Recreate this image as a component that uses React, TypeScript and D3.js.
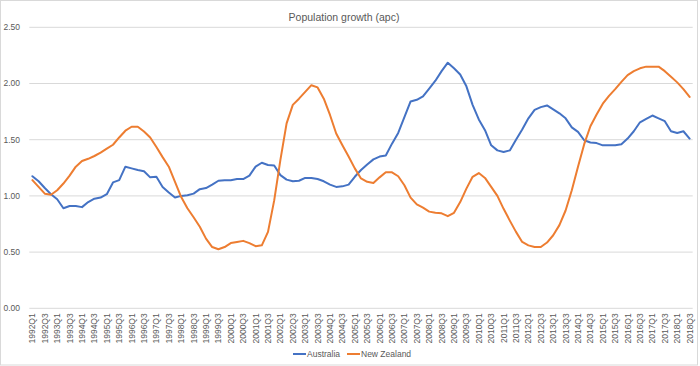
import React, { useEffect, useRef } from 'react'
import * as d3 from 'd3'

// quarterly, 1992Q1 .. 2018Q3
const startYear = 1992
const quarterCount = 107
const quarters: string[] = d3.range(quarterCount).map(
  (i) => `${startYear + Math.floor(i / 4)}Q${(i % 4) + 1}`
)

const australia = [
  1.175, 1.13, 1.07, 1.015, 0.97, 0.89, 0.91, 0.91, 0.9, 0.945,
  0.975, 0.985, 1.015, 1.12, 1.14, 1.26, 1.245, 1.23, 1.22, 1.165,
  1.17, 1.08, 1.03, 0.985, 1.0, 1.005, 1.02, 1.06, 1.07, 1.1,
  1.135, 1.14, 1.14, 1.15, 1.15, 1.18, 1.26, 1.295, 1.275, 1.27,
  1.185, 1.145, 1.13, 1.135, 1.16, 1.16, 1.15, 1.13, 1.1, 1.08,
  1.085, 1.1, 1.17, 1.23, 1.28, 1.325, 1.35, 1.36, 1.465, 1.56,
  1.7, 1.84, 1.855, 1.885, 1.955, 2.025, 2.11, 2.185, 2.135, 2.08,
  1.975, 1.81, 1.68, 1.585, 1.45, 1.405, 1.39, 1.405, 1.5, 1.59,
  1.69, 1.765, 1.79, 1.805, 1.77, 1.735, 1.69, 1.61, 1.57, 1.495,
  1.475, 1.47, 1.45, 1.45, 1.45, 1.46, 1.51, 1.575, 1.655, 1.685,
  1.715, 1.69, 1.665, 1.575, 1.56, 1.575, 1.51,
]

const newZealand = [
  1.14, 1.08, 1.02, 1.01, 1.05, 1.11, 1.18, 1.26, 1.31, 1.33,
  1.355, 1.385, 1.42, 1.455, 1.52, 1.58, 1.615, 1.615, 1.573, 1.52,
  1.435, 1.345, 1.26, 1.125, 0.99, 0.89, 0.81, 0.725, 0.62, 0.545,
  0.525, 0.545, 0.58, 0.59, 0.6, 0.58, 0.553, 0.56, 0.68, 0.96,
  1.32, 1.645, 1.81, 1.865, 1.925, 1.985, 1.965, 1.865, 1.72, 1.555,
  1.45, 1.35, 1.245, 1.155, 1.125, 1.115, 1.165, 1.21, 1.21, 1.175,
  1.095, 0.985, 0.925, 0.895, 0.86, 0.85, 0.845, 0.82, 0.85, 0.945,
  1.065, 1.17, 1.203, 1.16, 1.08, 1.0, 0.885, 0.78, 0.68, 0.59,
  0.56, 0.545, 0.545, 0.585, 0.65, 0.74, 0.87, 1.05, 1.26, 1.46,
  1.62, 1.725, 1.82, 1.89, 1.95, 2.015, 2.075, 2.11, 2.135, 2.15,
  2.15, 2.15, 2.11, 2.06, 2.01, 1.95, 1.88,
]

const yTicks = [0, 0.5, 1, 1.5, 2, 2.5]

const series = [
  { name: 'Australia', values: australia, color: '#4472C4' },
  { name: 'New Zealand', values: newZealand, color: '#ED7D31' },
]

const W = 700
const H = 366
const margin = { top: 27.3, right: 7.3, bottom: 57.7, left: 29.3 }
const font = '"Liberation Sans", Arial, sans-serif'

export default function App() {
  const ref = useRef<SVGSVGElement>(null)

  useEffect(() => {
    const svg = d3.select(ref.current)
    svg.selectAll('*').remove()

    const x = d3.scalePoint<string>()
      .domain(quarters)
      .range([margin.left, W - margin.right])
      .padding(0.5)
    const y = d3.scaleLinear()
      .domain([0, 2.5])
      .range([H - margin.bottom, margin.top])

    // chart border
    svg.append('rect')
      .attr('x', 0.5).attr('y', 0.5)
      .attr('width', W - 3).attr('height', H - 1.5)
      .attr('fill', '#fff')
      .attr('stroke', '#D9D9D9')

    // gridlines + y labels
    const yg = svg.append('g')
    yg.selectAll('line')
      .data(yTicks)
      .enter()
      .append('line')
      .attr('x1', margin.left)
      .attr('x2', W - margin.right)
      .attr('y1', (d) => y(d))
      .attr('y2', (d) => y(d))
      .attr('stroke', '#D9D9D9')
      .attr('stroke-width', 1)
    yg.selectAll('text')
      .data(yTicks)
      .enter()
      .append('text')
      .attr('x', 20)
      .attr('y', (d) => y(d))
      .attr('dy', '0.35em')
      .attr('text-anchor', 'end')
      .attr('font-family', font)
      .attr('font-size', 8.5)
      .attr('fill', '#595959')
      .text((d) => d.toFixed(2))

    // x labels, every second quarter
    const xg = svg.append('g')
    xg.selectAll('text')
      .data(quarters.filter((_, i) => i % 2 === 0))
      .enter()
      .append('text')
      .attr('transform', (d) => `translate(${x(d)},${H - margin.bottom + 5}) rotate(-90)`)
      .attr('dy', '0.35em')
      .attr('text-anchor', 'end')
      .attr('font-family', font)
      .attr('font-size', 8.5)
      .attr('fill', '#595959')
      .text((d) => d)

    // lines
    series.forEach((s) => {
      const line = d3.line<number>()
        .x((_, i) => x(quarters[i]) as number)
        .y((d) => y(d))
      svg.append('path')
        .datum(s.values)
        .attr('d', line)
        .attr('fill', 'none')
        .attr('stroke', s.color)
        .attr('stroke-width', 2)
        .attr('stroke-linejoin', 'round')
        .attr('stroke-linecap', 'round')
    })

    // title
    svg.append('text')
      .attr('x', 344)
      .attr('y', 21)
      .attr('text-anchor', 'middle')
      .attr('font-family', font)
      .attr('font-size', 10.5)
      .attr('fill', '#595959')
      .text('Population growth (apc)')

    // legend
    const legendX = [293, 347]
    series.forEach((s, i) => {
      const g = svg.append('g').attr('transform', `translate(${legendX[i]},354)`)
      g.append('line')
        .attr('x1', 0).attr('x2', 13)
        .attr('stroke', s.color)
        .attr('stroke-width', 2)
      g.append('text')
        .attr('x', 14)
        .attr('dy', '0.35em')
        .attr('font-family', font)
        .attr('font-size', 8.5)
        .attr('fill', '#595959')
        .text(s.name)
    })
  }, [])

  return (
    <svg
      ref={ref}
      width={W}
      height={H}
      style={{ position: 'absolute', left: 0, top: 0, display: 'block' }}
    />
  )
}
